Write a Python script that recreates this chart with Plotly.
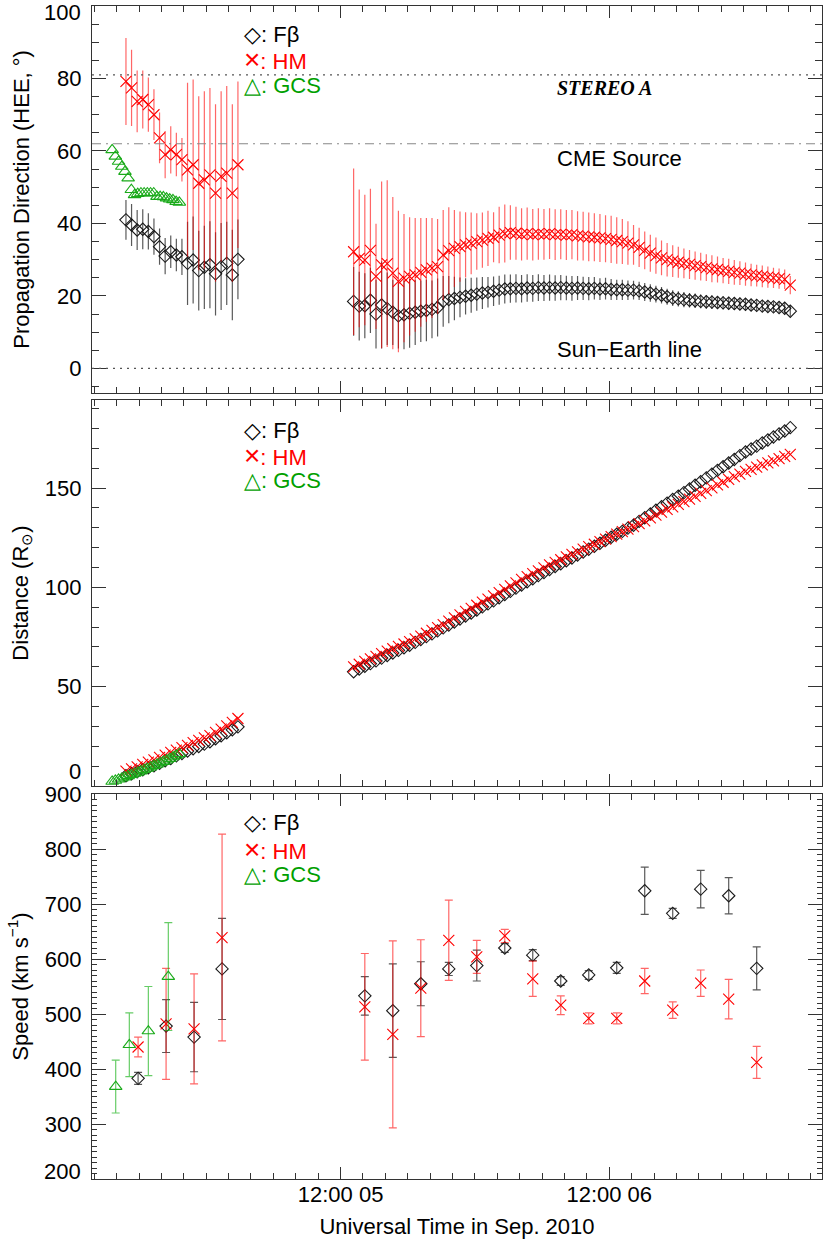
import pandas as pd
import plotly.graph_objects as go

# --- times -------------------------------------------------------------
t_early = pd.date_range("2010-09-04 16:50", periods=21, freq="30min")
t_gcs = pd.date_range("2010-09-04 15:36", "2010-09-04 21:36", periods=22)
t_late = pd.date_range("2010-09-05 13:10", periods=79, freq="30min")
t_spd_early = pd.date_range("2010-09-04 17:55", periods=4, freq="150min")
t_spd_gcs = pd.to_datetime(["2010-09-04 15:55", "2010-09-04 17:08",
                            "2010-09-04 18:50", "2010-09-04 20:37"])
t_spd_late = pd.date_range("2010-09-05 14:10", periods=15, freq="150min")

# --- propagation direction (deg) --------------------------------------
dir_fb_early = [41.0, 39.6, 38.2, 38.4, 37.8, 36.4, 33.6, 31.0, 32.2, 31.3, 30.8,
                29.0, 29.9, 27.0, 27.9, 28.6, 26.1, 28.1, 29.0, 25.8, 30.1]
err_fb_early = [5.5, 5.8, 5.5, 5.5, 5.0, 5.0, 5.0, 5.0, 4.5, 4.5, 5.0,
                11.5, 12.0, 11.0, 11.5, 12.0, 11.5, 12.0, 11.5, 12.5, 11.0]
dir_hm_early = [79.2, 77.4, 73.7, 74.2, 72.8, 70.0, 63.6, 59.0, 60.3, 59.0, 57.6,
                54.8, 56.2, 51.1, 52.0, 53.4, 48.4, 53.0, 53.9, 48.4, 56.2]
err_hm_early = [12.0, 10.5, 8.5, 8.0, 7.5, 7.0, 7.0, 6.5, 6.5, 6.0, 6.0,
                24.0, 23.5, 24.0, 24.5, 24.0, 24.5, 23.5, 24.0, 24.5, 23.0]
dir_gcs = [60.3, 58.5, 57.1, 55.7, 54.3, 52.5, 49.3, 47.9, 48.2, 48.4, 48.4,
           48.4, 48.4, 48.4, 47.4, 47.4, 47.3, 47.0, 46.7, 46.5, 46.0, 45.8]

dir_fb_late = [18.5, 17.2, 17.3, 18.8, 15.0, 17.5, 16.5, 15.5, 14.5, 14.8,
               15.2, 15.5, 15.8, 16.0, 16.3, 16.8, 18.5, 19.0, 19.3, 19.6,
               19.9, 20.2, 20.5, 20.8, 21.0, 21.3, 21.6, 21.9, 22.0, 22.1,
               22.0, 22.2, 22.1, 22.3, 22.2, 22.3, 22.2, 22.3, 22.2, 22.1,
               22.2, 22.1, 22.0, 22.1, 21.9, 22.0, 21.8, 21.7, 21.7, 21.6,
               21.6, 21.4, 21.1, 20.8, 20.5, 20.2, 19.8, 19.4, 19.2, 19.0,
               18.8, 18.7, 18.5, 18.4, 18.3, 18.2, 18.1, 18.0, 17.9, 17.8,
               17.7, 17.5, 17.4, 17.2, 17.1, 17.0, 16.8, 16.6, 15.8]
err_fb_late = [9.5, 9.5, 9.0, 9.0, 9.5, 12.0, 10.0, 9.0, 9.0, 9.5,
               9.5, 9.0, 8.5, 8.5, 8.0, 8.0, 7.0, 6.5, 6.0, 5.5,
               5.0, 4.8, 4.6, 4.4, 4.2, 4.1, 4.0, 4.0, 3.9, 3.9,
               3.8, 3.8, 3.7, 3.7, 3.6, 3.6, 3.5, 3.5, 3.4, 3.4,
               3.3, 3.2, 3.2, 3.1, 3.0, 3.0, 2.9, 2.8, 2.8, 2.7,
               2.6, 2.5, 2.5, 2.4, 2.3, 2.3, 2.2, 2.2, 2.1, 2.1,
               2.0, 2.0, 1.9, 1.9, 1.9, 1.8, 1.8, 1.8, 1.7, 1.7,
               1.7, 1.6, 1.6, 1.6, 1.6, 1.5, 1.5, 1.5, 1.5]
dir_hm_late = [32.2, 30.4, 29.9, 32.6, 25.4, 28.6, 28.9, 26.3, 24.0, 24.9,
               25.4, 25.8, 26.5, 27.2, 27.7, 28.1, 31.3, 32.5, 33.1, 33.6,
               34.1, 34.5, 35.0, 35.4, 35.9, 36.2, 36.8, 37.2, 37.5, 37.3,
               37.0, 37.2, 36.9, 37.1, 37.0, 37.2, 36.9, 37.0, 36.8, 36.9,
               36.6, 36.5, 36.3, 36.2, 36.0, 35.8, 35.6, 35.3, 35.0, 34.6,
               34.1, 33.4, 32.6, 31.8, 31.1, 30.5, 30.0, 29.6, 29.3, 29.0,
               28.7, 28.4, 28.1, 27.8, 27.5, 27.3, 27.0, 26.8, 26.5, 26.3,
               26.0, 25.8, 25.6, 25.4, 25.2, 25.0, 24.8, 24.6, 23.0]
err_hm_late = [23.0, 19.0, 18.0, 17.0, 14.5, 23.0, 23.0, 21.0, 19.5, 17.7,
               16.3, 15.7, 15.0, 14.3, 13.8, 13.1, 12.4, 12.0, 10.6, 9.7,
               9.0, 8.5, 7.8, 7.6, 7.6, 6.9, 7.8, 8.0, 7.5, 7.3,
               7.2, 7.2, 7.1, 7.1, 7.0, 7.0, 7.0, 6.9, 6.9, 6.8,
               6.8, 6.7, 6.7, 6.6, 6.6, 6.5, 6.5, 6.4, 6.2, 6.0,
               5.5, 5.4, 5.2, 5.1, 5.0, 4.8, 4.6, 4.4, 4.3, 4.1,
               4.0, 3.9, 3.8, 3.7, 3.7, 3.6, 3.5, 3.5, 3.4, 3.3,
               3.2, 3.1, 3.0, 3.0, 2.9, 2.8, 2.8, 2.7, 2.5]

# --- distance (R_sun) ---------------------------------------------------
dist_fb_early = [5.2, 6.2, 7.2, 8.2, 9.2, 10.2, 11.4, 12.7, 13.9, 15.2, 16.4,
                 17.6, 18.8, 19.9, 21.1, 22.3, 23.8, 25.3, 26.8, 28.3, 29.8]
dist_hm_early = [7.5, 8.6, 9.7, 10.9, 12.0, 13.2, 14.4, 15.6, 16.9, 18.1, 19.3,
                 20.5, 21.8, 23.0, 24.2, 25.4, 27.0, 28.6, 30.3, 32.0, 34.0]
dist_gcs = [2.3, 2.8, 3.4, 3.9, 4.5, 5.1, 5.7, 6.3, 6.9, 7.5, 8.2,
            8.8, 9.5, 10.2, 10.9, 11.6, 12.3, 13.0, 13.8, 14.6, 15.4, 16.2]
dist_fb_late = [57.5, 58.9, 60.3, 61.6, 63.0, 64.4, 65.7, 67.0, 68.3, 69.6,
                70.9, 72.3, 73.8, 75.2, 76.6, 78.1, 79.6, 81.1, 82.6, 84.1,
                85.6, 87.1, 88.6, 90.2, 91.7, 93.2, 94.8, 96.4, 98.0, 99.6,
                101.2, 102.8, 104.3, 105.9, 107.5, 109.0, 110.5, 111.9, 113.4, 114.8,
                116.3, 117.8, 119.2, 120.7, 122.2, 123.7, 125.2, 126.7, 128.2, 129.8,
                131.3, 133.2, 135.0, 136.9, 138.8, 140.6, 142.4, 144.2, 145.9, 147.7,
                149.5, 151.4, 153.2, 155.1, 157.0, 158.9, 160.7, 162.6, 164.4, 166.3,
                168.1, 169.6, 171.1, 172.7, 174.2, 175.7, 177.2, 178.7, 180.4]
dist_hm_late = [60.0, 61.3, 62.7, 64.0, 65.3, 66.7, 67.9, 69.1, 70.3, 71.5,
                72.7, 74.1, 75.5, 76.9, 78.3, 79.7, 81.3, 83.0, 84.6, 86.2,
                87.9, 89.4, 91.0, 92.6, 94.1, 95.7, 97.3, 99.0, 100.7, 102.3,
                104.0, 105.4, 106.9, 108.3, 109.8, 111.3, 112.6, 113.9, 115.3, 116.6,
                117.9, 119.2, 120.5, 121.7, 123.0, 124.3, 125.5, 126.8, 128.1, 129.3,
                130.6, 132.1, 133.5, 135.0, 136.4, 137.9, 139.2, 140.5, 141.8, 143.1,
                144.4, 145.8, 147.3, 148.7, 150.1, 151.6, 152.9, 154.3, 155.7, 157.0,
                158.4, 159.4, 160.5, 161.6, 162.7, 163.7, 164.8, 165.9, 166.9]

# --- speed (km/s) -------------------------------------------------------
spd_fb_early = [383, 478, 458, 582]
spd_fb_early_err = [11, 48, 63, 92]
spd_hm_early = [440, 482, 473, 639]
spd_hm_early_err = [18, 101, 100, 188]
spd_gcs = [368, 444, 469, 568]
spd_gcs_err = [48, 58, 81, 98]
spd_fb_late = [533, 506, 555, 582, 588, 620, 607, 560, 571, 584, 724, 683, 727, 715, 583]
spd_fb_late_err = [35, 85, 40, 12, 28, 8, 10, 8, 8, 10, 43, 9, 34, 33, 39]
spd_hm_late = [513, 463, 547, 634, 604, 642, 564, 516, 492, 492, 560, 507, 556, 527, 412]
spd_hm_late_err = [97, 170, 88, 73, 30, 12, 32, 17, 10, 10, 23, 15, 24, 36, 29]

# --- style ---------------------------------------------------------------
FONT = "Liberation Sans, Arial, sans-serif"
AX = "#333333"
BLACK = "#1a1a1a"
RED = "#ff0000"
GREEN = "#1aaa1a"
BLACK_BAR = "rgba(0,0,0,0.65)"
RED_BAR = "rgba(255,0,0,0.6)"
GREEN_BAR = "rgba(0,170,0,0.6)"

SYM = {"fb": ("diamond-open", BLACK, BLACK_BAR, 9.5),
       "hm": ("x-thin-open", RED, RED_BAR, 11),
       "gcs": ("triangle-up-open", GREEN, GREEN_BAR, 11)}

fig = go.Figure()


def add(kind, x, y, err=None, ax="", cap=0):
    sym, col, barcol, size = SYM[kind]
    tr = go.Scatter(x=x, y=y, mode="markers", showlegend=False, hoverinfo="skip",
                    marker=dict(symbol=sym, size=size, color=col,
                                line=dict(width=1.1, color=col)),
                    xaxis="x" + ax, yaxis="y" + ax)
    if err is not None:
        tr.error_y = dict(type="data", array=err, visible=True, thickness=1.2,
                          width=cap, color=barcol)
    fig.add_trace(tr)


# top panel
add("fb", t_early, dir_fb_early, err_fb_early)
add("fb", t_late, dir_fb_late, err_fb_late)
add("hm", t_early, dir_hm_early, err_hm_early)
add("hm", t_late, dir_hm_late, err_hm_late)
add("gcs", t_gcs, dir_gcs)
# middle panel
add("fb", t_early, dist_fb_early, ax="2")
add("fb", t_late, dist_fb_late, ax="2")
add("hm", t_early, dist_hm_early, ax="2")
add("hm", t_late, dist_hm_late, ax="2")
add("gcs", t_gcs, dist_gcs, ax="2")
# bottom panel
add("fb", t_spd_early, spd_fb_early, spd_fb_early_err, ax="3", cap=4)
add("fb", t_spd_late, spd_fb_late, spd_fb_late_err, ax="3", cap=4)
add("hm", t_spd_early, spd_hm_early, spd_hm_early_err, ax="3", cap=4)
add("hm", t_spd_late, spd_hm_late, spd_hm_late_err, ax="3", cap=4)
add("gcs", t_spd_gcs, spd_gcs, spd_gcs_err, ax="3", cap=4)

# axes
xbase = dict(type="date", range=["2010-09-04 13:48", "2010-09-07 07:00"],
             showline=True, linecolor=AX, linewidth=1.3, mirror="ticks",
             ticks="inside", ticklen=12, tickcolor=AX, tickwidth=1,
             tickmode="array", tickvals=["2010-09-05 12:00", "2010-09-06 12:00"],
             ticktext=["12:00 05", "12:00 06"],
             minor=dict(ticks="inside", ticklen=6, dtick=7200000,
                        tick0="2010-09-04 14:00", tickcolor=AX, showgrid=False),
             showgrid=False, zeroline=False, automargin=False,
             tickfont=dict(size=22, color="black", family=FONT), ticklabelstandoff=-5)
ybase = dict(showline=True, linecolor=AX, linewidth=1.3, mirror="ticks",
             ticks="inside", ticklen=14, tickcolor=AX, tickwidth=1,
             tickmode="array", showgrid=False, zeroline=False, automargin=False,
             tickfont=dict(size=22, color="black", family=FONT), ticklabelstandoff=5)
tfont = dict(size=22, family=FONT, color="black")

fig.update_layout(
    xaxis=dict(xbase, anchor="y", domain=[0, 1], showticklabels=False),
    xaxis2=dict(xbase, anchor="y2", domain=[0, 1], showticklabels=False),
    xaxis3=dict(xbase, anchor="y3", domain=[0, 1],
                title=dict(text="Universal Time in Sep. 2010", standoff=13, font=tfont)),
    yaxis=dict(ybase, anchor="x", domain=[0.6703, 1.0], range=[-6.7, 100],
               tickvals=[0, 20, 40, 60, 80],
               minor=dict(ticks="inside", ticklen=7, dtick=5, tick0=0, tickcolor=AX),
               title=dict(text="Propagation Direction (HEE, °)", standoff=21, font=tfont)),
    yaxis2=dict(ybase, anchor="x2", domain=[0.3350, 0.6641], range=[0, 194.3],
                tickvals=[50, 100, 150],
                minor=dict(ticks="inside", ticklen=7, dtick=10, tick0=0, tickcolor=AX),
                title=dict(text="Distance (R<sub>⊙</sub>)", standoff=10, font=tfont)),
    yaxis3=dict(ybase, anchor="x3", domain=[0, 0.3282], range=[200, 900],
                tickvals=[300, 400, 500, 600, 700, 800, 900],
                minor=dict(ticks="inside", ticklen=5, dtick=10, tick0=0, tickcolor=AX),
                title=dict(text="Speed (km s<sup>−1</sup>)", standoff=10, font=tfont)),
    width=830, height=1245,
    margin=dict(l=92, r=8, t=6, b=66),
    paper_bgcolor="white", plot_bgcolor="white",
    template="none",
    font=dict(family=FONT, size=22, color="black"),
)

# reference lines in the direction panel
for yv, dash, col in [(81, "2px,5px", "#555555"), (62, "9px,5px,2px,5px", "#888888"),
                      (0, "2px,5px", "#555555")]:
    fig.add_shape(type="line", xref="x domain", yref="y", x0=0, x1=1, y0=yv, y1=yv,
                  line=dict(color=col, width=1.2, dash=dash))

ann = []
# edge tick labels that IDL pulls inside the box
for txt, yp in [("100", 0.9945), ("0", 0.3478), ("200", 0.0068)]:
    ann.append(dict(text=txt, xref="paper", yref="paper", x=-0.0123, y=yp,
                    xanchor="right", yanchor="middle", showarrow=False, font=tfont))

ann.append(dict(text="<b><i>STEREO A</i></b>", xref="paper", yref="y", x=0.634, y=77.5,
                xanchor="left", yanchor="middle", showarrow=False,
                font=dict(size=20, family="Liberation Serif, Times New Roman, serif",
                          color="black")))
ann.append(dict(text="CME Source", xref="paper", yref="y", x=0.634, y=57.9,
                xanchor="left", yanchor="middle", showarrow=False, font=tfont))
ann.append(dict(text="Sun−Earth line", xref="paper", yref="y", x=0.634, y=5.1,
                xanchor="left", yanchor="middle", showarrow=False, font=tfont))

# legends as text
legend_rows = [("◇: Fβ", "black"),
               ("<span style='font-size:28px'>×</span>: HM", RED),
               ("△: GCS", "#00a000")]
legend_y = [[0.9753, 0.9540, 0.9318], [0.6385, 0.6172, 0.5951], [0.3035, 0.2813, 0.2592]]
for ys in legend_y:
    for (txt, col), yp in zip(legend_rows, ys):
        ann.append(dict(text=txt, xref="paper", yref="paper", x=0.205, y=yp,
                        xanchor="left", yanchor="middle", showarrow=False,
                        font=dict(size=22, family=FONT, color=col)))

fig.update_layout(annotations=ann)

# the page body has a default 8px margin; drop it so the figure sits at 0,0
fig.write_html("out.html", config={"displayModeBar": False},
               post_script="document.body.style.margin='0';document.body.style.overflow='hidden';")
